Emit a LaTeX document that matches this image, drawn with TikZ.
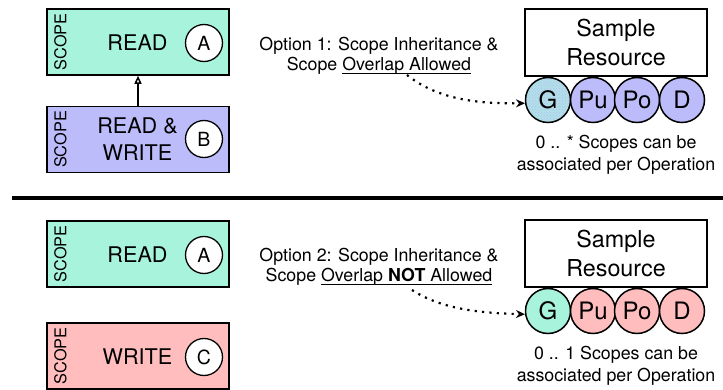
\documentclass[tikz,border=0pt]{standalone}
\usepackage{fontspec}
\setmainfont{TeX Gyre Heros}
\newcommand{\myul}[1]{\setbox0\hbox{#1}\rlap{\vrule height -2.2pt depth 3.3pt width \wd0}\box0}
\usetikzlibrary{arrows.meta,patterns}
\definecolor{mint}{RGB}{168,243,220}
\definecolor{lav}{RGB}{188,188,250}
\definecolor{rose}{RGB}{255,189,189}
\tikzset{
  scopebox/.style={draw, line width=1.6pt, minimum width=182pt, minimum height=66pt, inner sep=0pt},
  tag/.style={circle, draw, fill=white, line width=1.3pt, minimum size=37pt, inner sep=0pt, font=\fontsize{19.5}{22}\selectfont},
  scopelbl/.style={rotate=90, inner sep=0pt, font=\fontsize{16.3}{18}\selectfont},
  perm/.style={align=center, inner sep=0pt, font=\fontsize{21.6}{27}\selectfont},
  resbox/.style={draw, line width=1.6pt, minimum width=182pt, minimum height=67pt, align=center, inner sep=0pt, font=\fontsize{23.3}{29}\selectfont},
  op/.style={circle, draw, line width=1.5pt, minimum size=45pt, inner sep=0pt, font=\fontsize{24}{26}\selectfont},
  note/.style={align=center, inner sep=0pt, font=\fontsize{17.8}{22}\selectfont},
  optnote/.style={align=center, inner sep=0pt, font=\fontsize{17.8}{20}\selectfont},
  dotarrow/.style={line width=2.2pt, dash pattern=on 2.2pt off 5.2pt, -{Stealth[length=9pt,width=8pt]}},
  inherit/.style={line width=1.5pt, -{Triangle[open, length=8pt, width=7pt]}}
}
\begin{document}
\begin{tikzpicture}[x=1pt, y=-1pt]
\useasboundingbox (0,0) rectangle (723,390);

% ---------- Option 1 ----------
\node[scopebox, fill=mint] (readA1) at (138,42) {};
\node[scopelbl] (sA1) at (60.5,42) {SCOPE};
\node[perm] (tA1) at (137.5,42.5) {READ};
\node[tag] (cA1) at (204,43) {A};

\node[scopebox, fill=lav] (rwB) at (138,139.5) {};
\node[scopelbl] (sB) at (60.5,139.5) {SCOPE};
\node[perm] (tB) at (137.5,139) {READ \&\\WRITE};
\node[tag] (cB) at (204,139) {B};

\draw[inherit] (rwB) -- (readA1);

\node[optnote, anchor=north] (opt1) at (379,37) {Option 1: Scope Inheritance \&\\Scope \myul{Overlap Allowed}};

\node[resbox] (res1) at (616,42.5) {Sample\\Resource};
\node[op, preaction={fill=mint!65!lav}, pattern=crosshatch dots, pattern color=lav] (g1) at (548,100) {G};
\node[op, fill=lav] (pu1) at (593,100) {Pu};
\node[op, fill=lav] (po1) at (637,100) {Po};
\node[op, fill=lav] (d1) at (682,100) {D};

\node[note, anchor=north] (n1) at (616,135.5) {0 .. * Scopes can be\\associated per Operation};

\coordinate (a1s) at (407,75);
\draw[dotarrow] (a1s) .. controls (435,97) and (470,104) .. (g1.188);

% ---------- separator ----------
\coordinate (sepL) at (12,198);
\coordinate (sepR) at (723,198);
\draw[line width=3.3pt] (sepL) -- (sepR);

% ---------- Option 2 ----------
\node[scopebox, fill=mint] (readA2) at (138,254) {};
\node[scopelbl] (sA2) at (60.5,254) {SCOPE};
\node[perm] (tA2) at (137.5,254.5) {READ};
\node[tag] (cA2) at (204,255) {A};

\node[scopebox, fill=rose] (wC) at (138,356) {};
\node[scopelbl] (sC) at (60.5,356) {SCOPE};
\node[perm] (tC) at (137.5,357) {WRITE};
\node[tag] (cC) at (204,357) {C};

\node[optnote, anchor=north] (opt2) at (379,248) {Option 2: Scope Inheritance \&\\Scope \myul{Overlap \textbf{NOT} Allowed}};

\node[resbox] (res2) at (616,253.5) {Sample\\Resource};
\node[op, fill=mint] (g2) at (548,311) {G};
\node[op, fill=rose] (pu2) at (593,311) {Pu};
\node[op, fill=rose] (po2) at (637,311) {Po};
\node[op, fill=rose] (d2) at (682,311) {D};

\node[note, anchor=north] (n2) at (616,346.5) {0 .. 1 Scopes can be\\associated per Operation};

\coordinate (a2s) at (412,290);
\draw[dotarrow] (a2s) .. controls (440,308) and (475,313) .. (g2.188);
\end{tikzpicture}
\end{document}
